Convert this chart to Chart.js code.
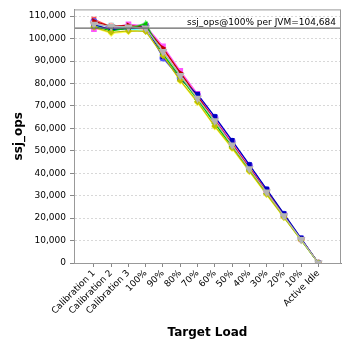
<!DOCTYPE html>
<html>
<head>
<meta charset="UTF-8">
<script src="https://cdn.jsdelivr.net/npm/chart.js"></script>
<style>
  html, body { margin: 0; padding: 0; background: #fff; }
  #wrap { width: 348px; height: 348px; }
</style>
</head>
<body>
<div id="wrap"><canvas id="chart"></canvas></div>
<script>
const categories = ['Calibration 1', 'Calibration 2', 'Calibration 3', '100%', '90%', '80%', '70%', '60%', '50%', '40%', '30%', '20%', '10%', 'Active Idle'];
const yTicks = [0, 10000, 20000, 30000, 40000, 50000, 60000, 70000, 80000, 90000, 100000, 110000];
const refValue = 104684;
const refLabel = 'ssj_ops@100% per JVM=104,684';

// one list per JVM
const jvm1 = [108600, 105200, 105600, 105400, 95200, 84600, 74400, 63900, 53300, 42700, 32100, 21400, 10700, 0];
const jvm2 = [107600, 104600, 105000, 105800, 91300, 82400, 74800, 64900, 54200, 43600, 32600, 21700, 10900, 0];
const jvm3 = [106000, 103800, 104800, 106800, 93400, 83000, 72600, 62400, 52000, 41500, 31200, 20800, 10400, 0];
const jvm4 = [104800, 102300, 103000, 104200, 92600, 81000, 71400, 60600, 51000, 40700, 30400, 20200, 10100, 0];
const jvm5 = [104200, 104800, 106400, 105600, 96600, 85600, 75400, 64400, 53800, 43100, 32300, 21500, 10800, 0];
const jvm6 = [105600, 106300, 104200, 103600, 93800, 84000, 72900, 62800, 52400, 41800, 31400, 20900, 10300, 0];
const jvm7 = [106800, 105600, 105200, 104000, 94600, 83400, 73800, 63200, 52800, 42200, 31800, 21100, 10600, 0];
const jvm8 = [107800, 105400, 105900, 104900, 95800, 84800, 74200, 63700, 53100, 42400, 31900, 21300, 10700, 0];
const jvm9 = [106200, 104000, 104400, 105200, 92000, 82000, 75200, 65200, 54600, 43800, 32900, 22000, 11000, 0];
const jvm10 = [105400, 103400, 104600, 106400, 93000, 82800, 73000, 62200, 51800, 41400, 31000, 20700, 10300, 0];
const jvm11 = [105000, 102800, 103400, 103200, 92400, 81400, 71800, 61000, 51400, 41000, 30700, 20400, 10200, 0];
const jvm12 = [106400, 105400, 105200, 104700, 94200, 83600, 73400, 63400, 52600, 42000, 31600, 21000, 10500, 0];

const series = [jvm1, jvm2, jvm3, jvm4, jvm5, jvm6, jvm7, jvm8, jvm9, jvm10, jvm11, jvm12];
const colors = ['#ff5555', '#5555ff', '#55ff55', '#ffff55', '#ff55ff', '#55ffff', '#ffafaf', '#c00000', '#0000c0', '#00c000', '#c0c000', '#b4b4b4'];
const shapes = ['rect', 'circle', 'triangle', 'rectRot', 'rect', 'triangle', 'circle', 'triangle', 'rect', 'triangle', 'rectRot', 'triangle'];
const rotations = [0, 0, 0, 0, 0, 180, 0, 90, 0, 270, 0, 180];
const sizes = [3.5, 3.5, 3.5, 3.5, 4, 3.5, 3.5, 3.5, 3.5, 3.5, 3.5, 5];

const datasets = series.map((vals, s) => ({
  label: 'JVM ' + (s + 1),
  data: vals.map((v, i) => ({ x: i, y: v })),
  borderColor: colors[s],
  backgroundColor: colors[s],
  borderWidth: 1.2,
  pointStyle: shapes[s],
  rotation: rotations[s],
  pointRadius: sizes[s],
  pointBorderWidth: 0,
  order: series.length - s
}));

const font = "'DejaVu Sans', sans-serif";

const extras = {
  id: 'extras',
  afterDatasetsDraw(chart) {
    const { ctx, chartArea: a } = chart;
    const y = chart.scales.y.getPixelForValue(refValue);
    ctx.save();
    ctx.strokeStyle = '#666';
    ctx.lineWidth = 1.2;
    ctx.beginPath();
    ctx.moveTo(a.left, y);
    ctx.lineTo(a.right, y);
    ctx.stroke();
    ctx.fillStyle = '#000';
    ctx.font = '9px ' + font;
    ctx.textAlign = 'right';
    ctx.textBaseline = 'alphabetic';
    ctx.fillText(refLabel, a.right - 5, y - 3);
    ctx.strokeStyle = '#999';
    ctx.lineWidth = 1;
    ctx.strokeRect(a.left + 0.5, a.top + 0.5, a.right - a.left - 1, a.bottom - a.top);
    ctx.restore();
  }
};

new Chart(document.getElementById('chart'), {
  type: 'line',
  data: { datasets },
  plugins: [extras],
  options: {
    responsive: true,
    maintainAspectRatio: false,
    animation: false,
    layout: { padding: { top: 5, right: 7, left: 0, bottom: 0 } },
    plugins: { legend: { display: false }, tooltip: { enabled: false } },
    scales: {
      x: {
        type: 'linear',
        min: -1.154,
        max: 14.31,
        afterBuildTicks: axis => { axis.ticks = categories.map((c, i) => ({ value: i })); },
        afterFit: axis => { axis.height = 85; },
        ticks: {
          autoSkip: false,
          minRotation: 45,
          maxRotation: 45,
          padding: 1,
          color: '#000',
          font: { family: font, size: 9 },
          callback: v => categories[v]
        },
        grid: { drawOnChartArea: false, drawTicks: true, tickLength: 4, color: '#888' },
        border: { color: '#888' },
        title: { display: true, text: 'Target Load', color: '#000', font: { family: font, size: 12, weight: 'bold' }, padding: { top: 4, bottom: 8 } }
      },
      y: {
        min: 0,
        max: 113000,
        afterBuildTicks: axis => { axis.ticks = yTicks.map(v => ({ value: v })); },
        afterFit: axis => { axis.width = 74; },
        ticks: {
          color: '#000',
          padding: 4,
          font: { family: font, size: 9 },
          callback: v => v.toLocaleString('en-US')
        },
        grid: { color: '#d8d8d8', tickColor: '#888', tickLength: 4, tickBorderDash: [] },
        border: { color: '#888', dash: [2, 2] },
        title: { display: true, text: 'ssj_ops', color: '#000', font: { family: font, size: 12, weight: 'bold' }, padding: { top: 12 } }
      }
    }
  }
});
</script>
</body>
</html>
